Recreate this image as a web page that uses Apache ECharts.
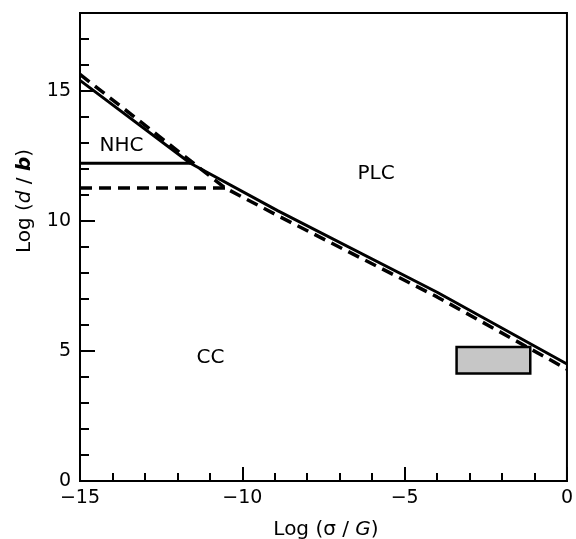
<!DOCTYPE html>
<html>
<head>
<meta charset="utf-8">
<script src="https://cdn.jsdelivr.net/npm/echarts@6/dist/echarts.min.js"></script>
<style>html,body{margin:0;padding:0;background:#fff;}#c{width:576px;height:539px;}</style>
</head>
<body>
<div id="c"></div>
<script>
// Data
const xRange = [-15, 0];
const yRange = [0, 18];
const solidBoundary = [[-15, 15.41], [-11.6, 12.22], [-8.9, 10.39], [-4.0, 7.26], [0, 4.5]];
const solidHorizontal = [[-15, 12.22], [-11.6, 12.22]];
const dashedBoundary = [[-15, 15.64], [-10.53, 11.27], [-8.9, 10.2], [-4.0, 7.08], [0, 4.3]];
const dashedHorizontal = [[-15, 11.27], [-10.53, 11.27]];
const boxX = [-3.4, -1.13];
const boxY = [4.13, 5.15];
const regionNames = ['NHC', 'PLC', 'CC'];
const regionPos = [[-13.72, 12.89], [-5.88, 11.81], [-10.98, 4.72]];

const FONT = 'DejaVu Sans';
const chart = echarts.init(document.getElementById('c'));
const lineStyleSolid = { color: '#000', width: 3, type: 'solid' };
const lineStyleDash = { color: '#000', width: 3.5, type: [12, 7] };
const gridBox = { left: 80, top: 13, right: 3, bottom: 58 };

chart.setOption({
  animation: false,
  backgroundColor: '#fff',
  grid: [
    Object.assign({ show: true, borderColor: '#000', borderWidth: 2, backgroundColor: 'transparent' }, gridBox),
    Object.assign({ show: false }, gridBox)
  ],
  xAxis: [{
    type: 'value', gridIndex: 0, min: xRange[0], max: xRange[1], interval: 5,
    axisLine: { show: true, onZero: false, lineStyle: { color: '#000', width: 2 } },
    axisTick: { show: true, inside: true, length: 14, lineStyle: { color: '#000', width: 2 } },
    minorTick: { show: true, splitNumber: 5, length: 8, lineStyle: { color: '#000', width: 2 } },
    axisLabel: { color: '#000', fontSize: 19, fontFamily: FONT, margin: 8,
      formatter: v => (v < 0 ? '\u2212' + Math.abs(v) : String(v)) },
    splitLine: { show: false }
  }, {
    type: 'value', gridIndex: 1, min: xRange[0], max: xRange[1], interval: 5, show: false
  }],
  yAxis: [{
    type: 'value', gridIndex: 0, min: yRange[0], max: yRange[1], interval: 5,
    axisLine: { show: true, onZero: false, lineStyle: { color: '#000', width: 2 } },
    axisTick: { show: true, inside: true, length: 15, lineStyle: { color: '#000', width: 2 } },
    axisLabel: { color: '#000', fontSize: 19, fontFamily: FONT, margin: 9,
      formatter: v => (v % 5 === 0 ? String(v) : '') },
    splitLine: { show: false }
  }, {
    type: 'value', gridIndex: 1, min: yRange[0], max: yRange[1], interval: 1, position: 'left',
    axisLine: { show: false, onZero: false },
    axisTick: { show: true, inside: true, length: 9, lineStyle: { color: '#000', width: 2 } },
    axisLabel: { show: false },
    splitLine: { show: false }
  }],
  series: [
    { type: 'line', data: solidBoundary, symbol: 'none', lineStyle: lineStyleSolid, z: 3 },
    { type: 'line', data: solidHorizontal, symbol: 'none', lineStyle: lineStyleSolid, z: 3 },
    { type: 'line', data: dashedBoundary, symbol: 'none', lineStyle: lineStyleDash, z: 3 },
    { type: 'line', data: dashedHorizontal, symbol: 'none', lineStyle: lineStyleDash, z: 3 },
    {
      type: 'custom', data: [[boxX[0], boxY[0], boxX[1], boxY[1]]], z: 4,
      renderItem: function (params, api) {
        const p0 = api.coord([api.value(0), api.value(3)]);
        const p1 = api.coord([api.value(2), api.value(1)]);
        return { type: 'rect', shape: { x: p0[0], y: p0[1], width: p1[0] - p0[0], height: p1[1] - p0[1] },
          style: { fill: '#c6c6c6', stroke: '#000', lineWidth: 2.5 } };
      }
    },
    {
      type: 'scatter', symbolSize: 0, itemStyle: { color: '#000', opacity: 1 },
      data: regionNames.map((n, i) => ({ name: n, value: regionPos[i] })),
      label: { show: true, position: 'inside', formatter: p => p.name, color: '#000', opacity: 1,
        textBorderWidth: 0, fontSize: 20, fontFamily: FONT },
      z: 5
    }
  ],
  graphic: [
    { type: 'text', x: 326, y: 530, style: {
        text: 'Log ({n|σ} / {i|G})', align: 'center', verticalAlign: 'middle', fill: '#000',
        font: '20px "DejaVu Sans"',
        rich: { n: { fontSize: 20, fontFamily: FONT }, i: { fontSize: 20, fontFamily: FONT, fontStyle: 'italic' } }
    } },
    { type: 'text', x: 25, y: 201, rotation: Math.PI / 2, style: {
        text: 'Log ({i|d} / {b|b})', align: 'center', verticalAlign: 'middle', fill: '#000',
        font: '20px "DejaVu Sans"',
        rich: { i: { fontSize: 20, fontFamily: FONT, fontStyle: 'italic' }, b: { fontSize: 20, fontFamily: FONT, fontStyle: 'italic', fontWeight: 'bold' } }
    } }
  ]
});
</script>
</body>
</html>
